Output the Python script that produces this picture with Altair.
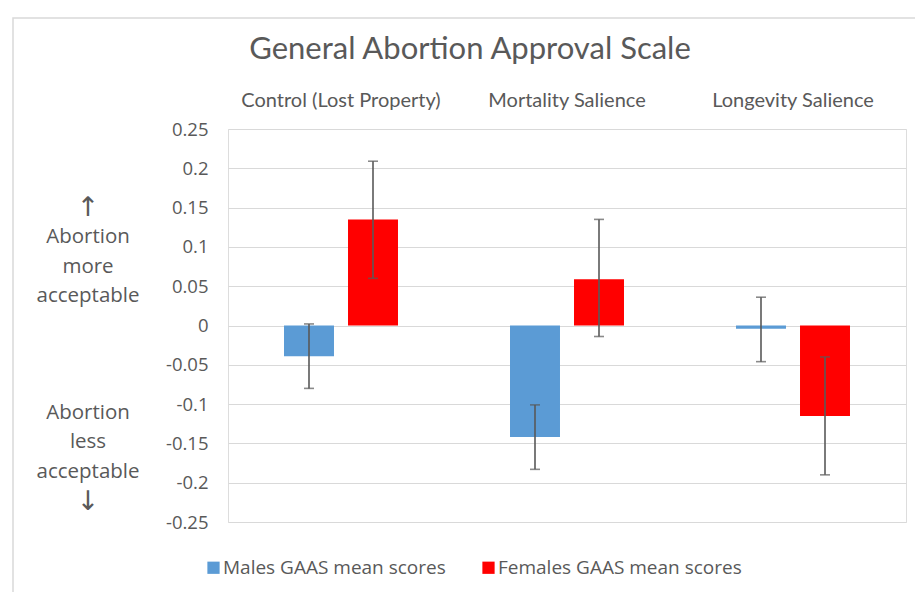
import altair as alt
import pandas as pd

categories = ["Control (Lost Property)", "Mortality Salience", "Longevity Salience"]
series = ["Males GAAS mean scores", "Females GAAS mean scores"]
males = [-0.039, -0.142, -0.004]
males_lo = [-0.080, -0.183, -0.046]
males_hi = [0.002, -0.101, 0.036]
females = [0.135, 0.059, -0.115]
females_lo = [0.060, -0.014, -0.190]
females_hi = [0.209, 0.135, -0.040]
y_ticks = [0.25, 0.2, 0.15, 0.1, 0.05, 0, -0.05, -0.1, -0.15, -0.2, -0.25]
side_words = ["Abortion", "more", "acceptable", "Abortion", "less", "acceptable"]
side_words_y = [0.1126, 0.0744, 0.0375, -0.1113, -0.1482, -0.1864]
arrows = ["↑", "↓"]
arrows_y = [0.1495, -0.2246]
title_text = "General Abortion Approval Scale"

rows = []
for i, c in enumerate(categories):
    rows.append({"cat": c, "series": series[0], "v": males[i], "lo": males_lo[i], "hi": males_hi[i]})
    rows.append({"cat": c, "series": series[1], "v": females[i], "lo": females_lo[i], "hi": females_hi[i]})
df = pd.DataFrame(rows)

GRAY = "#595959"
FONT = "Lato"
FONT2 = "Open Sans"

x_enc = alt.X("cat:N", sort=categories,
              scale=alt.Scale(paddingInner=0, paddingOuter=0),
              axis=alt.Axis(orient="top", title=None, domain=False, ticks=False,
                            labelAngle=0, labelFontSize=20, labelColor=GRAY,
                            labelPadding=19, labelFont=FONT, grid=False,
                            labelLimit=0))
xo_enc = alt.XOffset("series:N", sort=series,
                     scale=alt.Scale(paddingInner=0.219, paddingOuter=0.875))
y_scale = alt.Scale(domain=[-0.25, 0.25], nice=False)

base = alt.Chart(df)

bars = base.mark_bar().encode(
    x=x_enc,
    xOffset=xo_enc,
    y=alt.Y("v:Q", scale=y_scale,
            axis=alt.Axis(title=None, values=y_ticks, tickCount=30, domain=False,
                          ticks=False, labelFontSize=18.5, labelColor=GRAY,
                          labelPadding=20, labelFont=FONT2, gridColor="#d9d9d9",
                          gridWidth=1, labelOverlap=False,
                          labelExpr="replace(format(datum.value, '.2~f'), '\u2212', '-')")),
    color=alt.Color("series:N", sort=series,
                    scale=alt.Scale(domain=series, range=["#5B9BD5", "#FF0000"]),
                    legend=alt.Legend(title=None, orient="none", legendX=-24, legendY=429,
                                      direction="horizontal", symbolType="square",
                                      symbolSize=150, symbolStrokeWidth=0,
                                      symbolOpacity=1, labelFontSize=19,
                                      labelColor=GRAY, labelFont=FONT2,
                                      labelOffset=0, columnPadding=33, labelLimit=0)),
)

err = base.mark_rule(color=GRAY, strokeWidth=1.6).encode(
    x=alt.X("cat:N", sort=categories), xOffset=xo_enc,
    y=alt.Y("lo:Q", scale=y_scale), y2="hi:Q")

cap_lo = base.mark_tick(color=GRAY, thickness=1.6, size=10).encode(
    x=alt.X("cat:N", sort=categories), xOffset=xo_enc,
    y=alt.Y("lo:Q", scale=y_scale))
cap_hi = base.mark_tick(color=GRAY, thickness=1.6, size=10).encode(
    x=alt.X("cat:N", sort=categories), xOffset=xo_enc,
    y=alt.Y("hi:Q", scale=y_scale))

side = alt.Chart(pd.DataFrame({"t": side_words, "yv": side_words_y})).mark_text(
    fontSize=20.5, color=GRAY, font=FONT2, align="center", baseline="middle").encode(
    x=alt.value(-140), y=alt.Y("yv:Q", scale=y_scale), text="t:N")

arrow_marks = alt.Chart(pd.DataFrame({"t": arrows, "yv": arrows_y})).mark_text(
    fontSize=27, color=GRAY, font="DejaVu Sans", align="center", baseline="middle").encode(
    x=alt.value(-140), y=alt.Y("yv:Q", scale=y_scale), text="t:N")

title = alt.Chart(pd.DataFrame({"t": [title_text]})).mark_text(
    fontSize=31, color=GRAY, font=FONT, align="center", baseline="middle").encode(
    x=alt.value(242), y=alt.value(-79), text="t:N")

frame = alt.Chart(pd.DataFrame({"a": [0]})).mark_rect(
    fill=None, stroke="#d9d9d9", strokeWidth=1.5).encode(
    x=alt.value(-215), x2=alt.value(720), y=alt.value(-111), y2=alt.value(500))

chart = alt.layer(frame, bars, err, cap_lo, cap_hi, side, arrow_marks, title).properties(
    width=678, height=393,
    autosize=alt.AutoSizeParams(type="none"),
    padding={"left": 220, "top": 121, "right": 9, "bottom": 70},
).configure_view(stroke=None).configure(background="white")

chart.save("out.html", embed_options={"renderer": "svg", "actions": False})
